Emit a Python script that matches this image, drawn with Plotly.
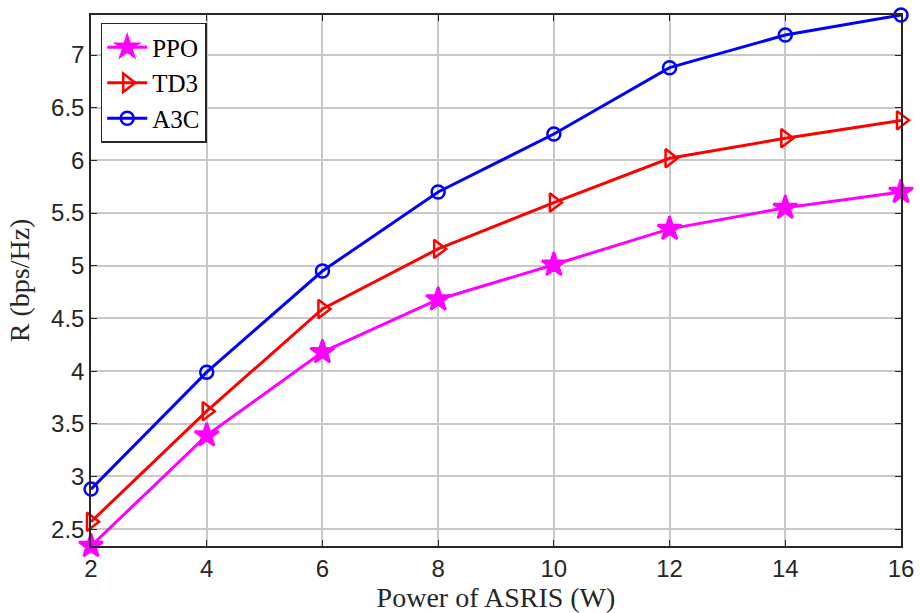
"""
Taxa R versus potência do ASRIS para PPO, TD3 e A3C (estilo MATLAB).
"""
import plotly.graph_objects as go

power_w = [2, 4, 6, 8, 10, 12, 14, 16]
ppo = [2.34, 3.39, 4.18, 4.68, 5.01, 5.35, 5.55, 5.70]
td3 = [2.57, 3.62, 4.59, 5.16, 5.60, 6.02, 6.21, 6.38]
a3c = [2.88, 3.99, 4.95, 5.70, 6.25, 6.88, 7.19, 7.38]

x_ticks = [2, 4, 6, 8, 10, 12, 14, 16]
y_ticks = [2.5, 3, 3.5, 4, 4.5, 5, 5.5, 6, 6.5, 7]

fig = go.Figure()
series = [
    ("PPO", ppo, "rgb(255,0,255)", "star", 18),
    ("TD3", td3, "rgb(255,0,0)", "triangle-right-open", 16),
    ("A3C", a3c, "rgb(0,0,255)", "circle-open", 13),
]
for name, ys, color, symbol, size in series:
    fig.add_trace(
        go.Scatter(
            x=power_w,
            y=ys,
            name=name,
            mode="lines+markers",
            line=dict(color=color, width=3),
            marker=dict(symbol=symbol, size=size, color=color,
                        line=dict(color=color, width=2.5)),
            cliponaxis=False,
        )
    )

axis_common = dict(
    showline=True,
    linecolor="#262626",
    linewidth=1.5,
    mirror="ticks",
    ticks="inside",
    ticklen=6,
    tickcolor="#262626",
    showgrid=True,
    gridcolor="rgb(200,200,200)",
    gridwidth=1.5,
    zeroline=False,
    automargin=False,
    tickfont=dict(family="Liberation Sans, Arial", size=24, color="#262626"),
)
title_font = dict(family="Liberation Serif, Times New Roman", size=28, color="#262626")

fig.update_layout(
    width=920,
    height=613,
    margin=dict(l=91, r=19, t=15, b=67),
    paper_bgcolor="white",
    plot_bgcolor="white",
    xaxis=dict(
        axis_common,
        range=[2, 16],
        tickvals=x_ticks,
        title=dict(text="Power of ASRIS (W)", standoff=2, font=title_font),
    ),
    yaxis=dict(
        axis_common,
        range=[2.34, 7.38],
        tickvals=y_ticks,
        ticktext=[f"{v:g}" for v in y_ticks],
    ),
    legend=dict(
        x=0.012, y=0.985, xanchor="left", yanchor="top",
        bgcolor="white",
        bordercolor="#262626",
        borderwidth=1.5,
        font=dict(family="Liberation Serif, Times New Roman", size=25, color="black"),
        tracegroupgap=0,
        itemwidth=40,
    ),
    showlegend=True,
)

# título do eixo y como anotação para ficar mais perto da borda, como no MATLAB
fig.add_annotation(
    text="R (bps/Hz)", textangle=-90,
    xref="paper", yref="paper", x=-0.088, y=0.5,
    xanchor="center", yanchor="middle", showarrow=False,
    font=title_font,
)

# o corpo da página tem margem padrão de 8px; zera para alinhar a figura
fig.write_html(
    "out.html",
    config={"displayModeBar": False},
    post_script="document.body.style.margin='0';document.body.style.overflow='hidden';",
)
